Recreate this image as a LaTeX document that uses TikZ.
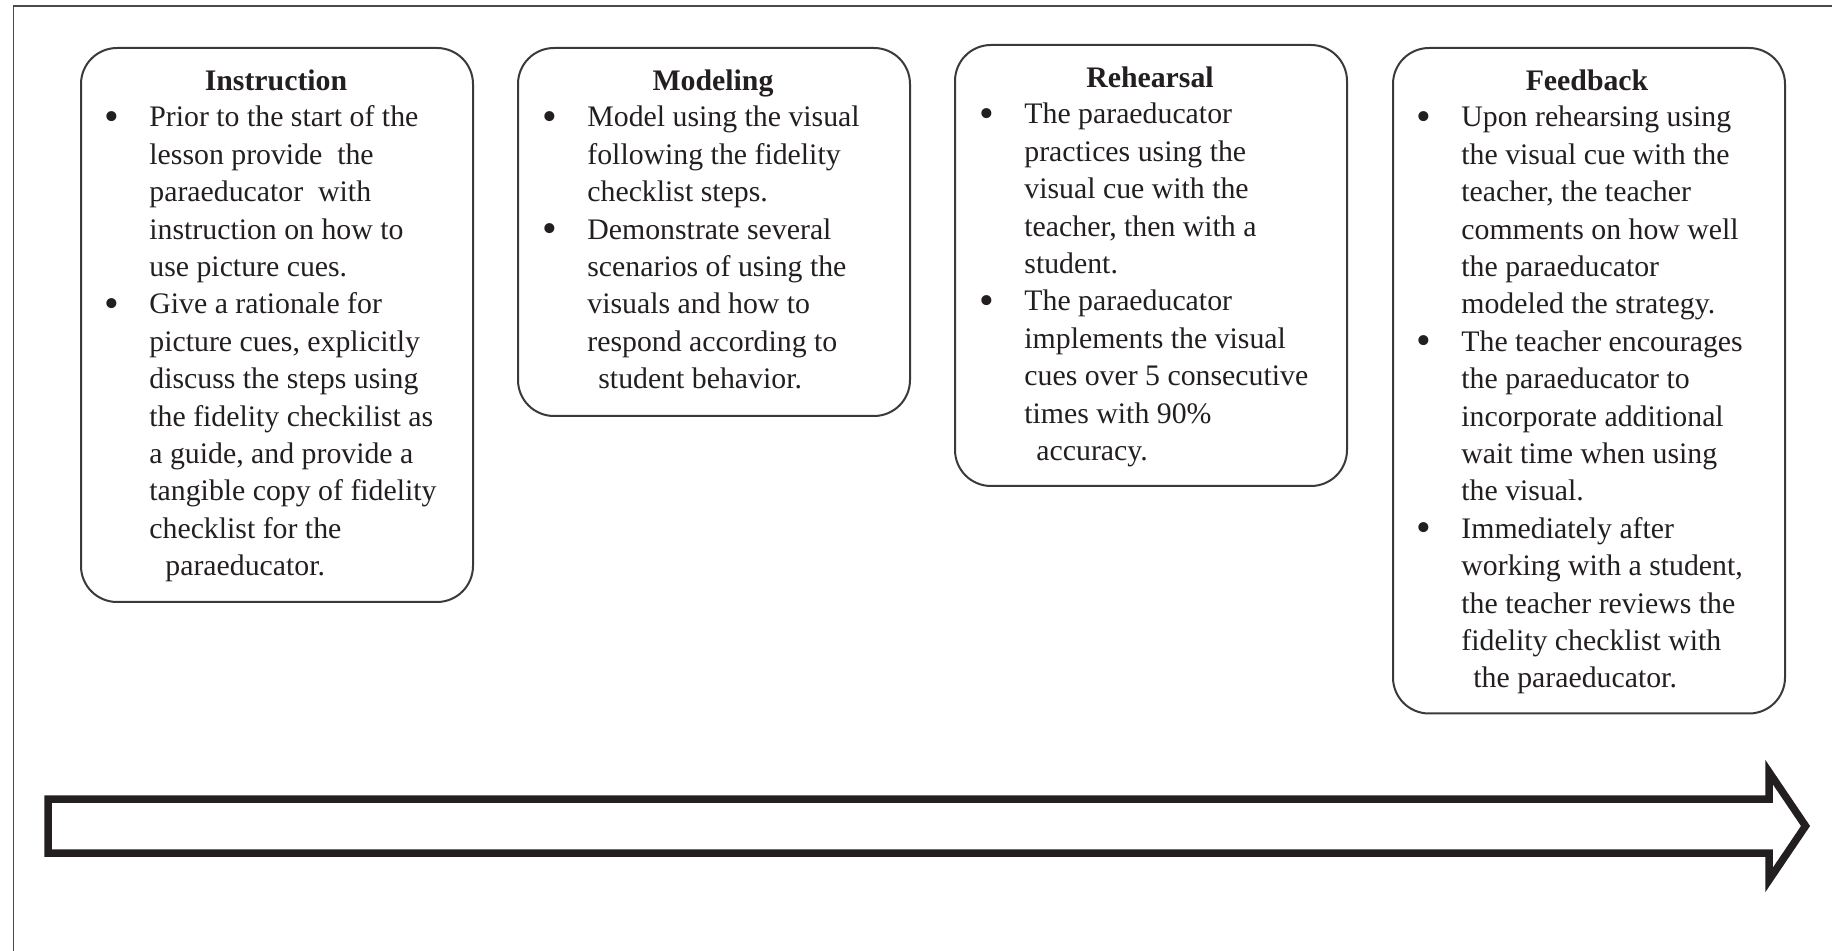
\documentclass[tikz,border=0pt]{standalone}
\usepackage{fontspec}
\setmainfont{Liberation Serif}
\definecolor{ink}{HTML}{231F20}
\definecolor{boxline}{HTML}{3A3A3A}
\definecolor{frameline}{HTML}{4A4A4A}
\newcommand\B{\llap{\raisebox{-1.6pt}{\fontsize{21pt}{21pt}\selectfont\textbullet}\hspace{15pt}}}
\newcommand\boxlines[4]{%
  \foreach \t [count=\i from 0] in {#4} {%
    \node[txtline] (#1-\i) at (#2, #3+\i*37.4) {\t};
  }%
}
\tikzset{
  stepbox/.style={draw=boxline, line width=1pt, rounded corners=18pt,
    inner sep=0pt, anchor=north west, minimum width=196pt},
  txtline/.style={anchor=base west, inner sep=0pt, text=ink,
    font=\fontsize{14.9pt}{18.7pt}\selectfont},
  ttl/.style={anchor=base, inner sep=0pt, text=ink,
    font=\fontsize{14.9pt}{18.7pt}\selectfont\bfseries},
  frame/.style={draw=frameline, line width=0.75pt},
  bigarrow/.style={draw=ink, line width=3.75pt, line join=miter, miter limit=10}
}
\begin{document}
\begin{tikzpicture}[x=0.5pt, y=-0.5pt]
\useasboundingbox (0,0) rectangle (1832,951);
% frame
\draw[frame] (13.3,951) -- (13.3,6) -- (1832,6);
% boxes
\node[stepbox, minimum height=277pt] (b1) at (80,47) {};
\node[stepbox, minimum height=184pt] (b2) at (517,47) {};
\node[stepbox, minimum height=220.5pt] (b3) at (954,44) {};
\node[stepbox, minimum height=332.75pt] (b4) at (1392,47) {};
% titles
\node[ttl] (t1) at (276,91) {Instruction};
\node[ttl] (t2) at (713,91) {Modeling};
\node[ttl] (t3) at (1150,88) {Rehearsal};
\node[ttl] (t4) at (1587,91) {Feedback};
% texts
\boxlines{l1}{149}{127}{\B Prior to the start of the, lesson provide\ \ the, paraeducator\ \ with, instruction on how to, use picture cues., \B Give a rationale for, {picture cues, explicitly}, discuss the steps using, the fidelity checkilist as, {a guide, and provide a}, tangible copy of fidelity, checklist for the, \hspace{8pt}paraeducator.}
\boxlines{l2}{587}{127}{\B Model using the visual, following the fidelity, checklist steps., \B Demonstrate several, scenarios of using the, visuals and how to, respond according to, \hspace{5.5pt}student behavior.}
\boxlines{l3}{1024}{124}{\B The paraeducator, practices using the, visual cue with the, {teacher, then with a}, student., \B The paraeducator, implements the visual, cues over 5 consecutive, times with 90\%, \hspace{6pt}accuracy.}
\boxlines{l4}{1461}{127}{\B Upon rehearsing using, the visual cue with the, {teacher, the teacher}, comments on how well, the paraeducator, modeled the strategy., \B The teacher encourages, the paraeducator to, incorporate additional, wait time when using, the visual., \B Immediately after, {working with a student,}, the teacher reviews the, fidelity checklist with, \hspace{6pt}the paraeducator.}
% big arrow
\draw[bigarrow] (48,799) -- (1769,799) -- (1769,772) -- (1805.5,826)
  -- (1769,880) -- (1769,853) -- (48,853) -- cycle;
\end{tikzpicture}
\end{document}
